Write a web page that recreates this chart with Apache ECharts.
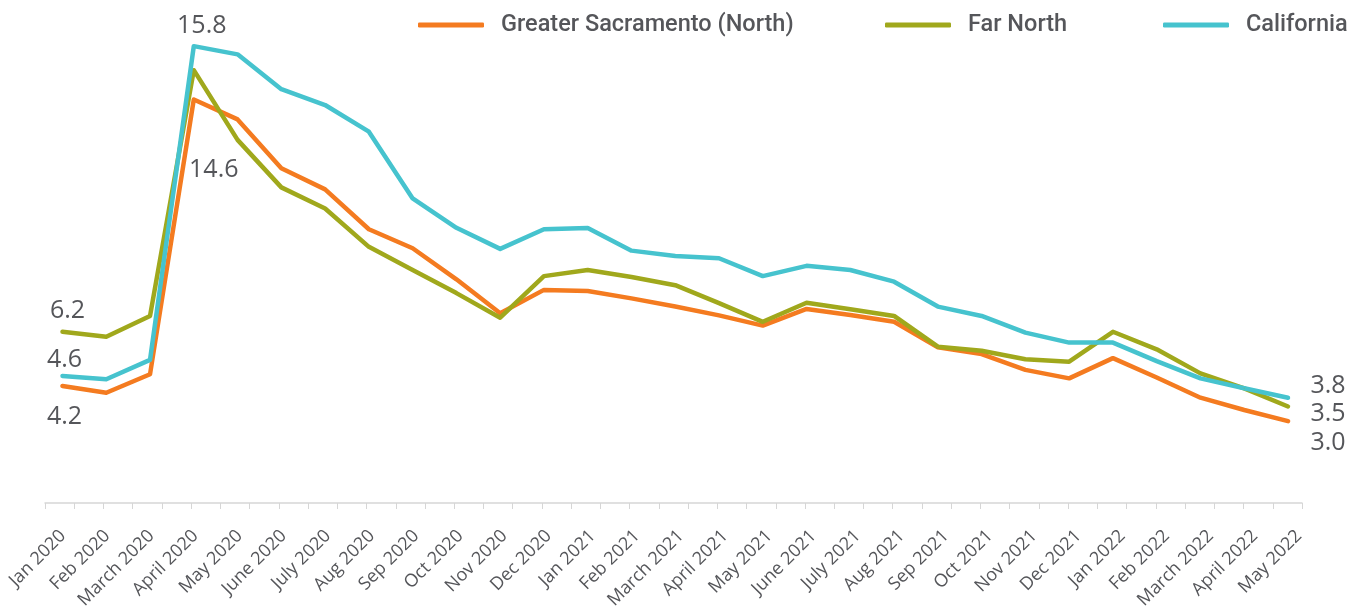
<!DOCTYPE html>
<html>
<head>
<meta charset="utf-8">
<title>Unemployment rate</title>
<script src="https://cdn.jsdelivr.net/npm/echarts@6/dist/echarts.min.js"></script>
<style>
    html, body { margin: 0; padding: 0; background: #fff; }
    #chart { width: 1363px; height: 607px; }
</style>
</head>
<body>
<div id="chart"></div>
<script>
const months = [
    'Jan 2020', 'Feb 2020', 'March 2020', 'April 2020', 'May 2020', 'June 2020', 'July 2020',
    'Aug 2020', 'Sep 2020', 'Oct 2020', 'Nov 2020', 'Dec 2020', 'Jan 2021', 'Feb 2021',
    'March 2021', 'April 2021', 'May 2021', 'June 2021', 'July 2021', 'Aug 2021', 'Sep 2021',
    'Oct 2021', 'Nov 2021', 'Dec 2021', 'Jan 2022', 'Feb 2022', 'March 2022', 'April 2022', 'May 2022'
];

const sacramento = [
    4.20, 3.97, 4.60, 13.98, 13.30, 11.63, 10.91, 9.55, 8.90, 7.84, 6.68, 7.48, 7.44, 7.19,
    6.91, 6.61, 6.26, 6.83, 6.62, 6.39, 5.52, 5.29, 4.75, 4.46, 5.15, 4.49, 3.80, 3.38, 3.00
];
const farNorth = [
    6.05, 5.88, 6.59, 14.98, 12.60, 10.98, 10.26, 8.95, 8.16, 7.37, 6.53, 7.95, 8.16, 7.92,
    7.64, 7.03, 6.39, 7.04, 6.82, 6.59, 5.54, 5.40, 5.11, 5.03, 6.05, 5.45, 4.63, 4.12, 3.50
];
const california = [
    4.54, 4.43, 5.09, 15.80, 15.52, 14.33, 13.79, 12.88, 10.60, 9.60, 8.88, 9.55, 9.59, 8.82,
    8.64, 8.56, 7.95, 8.30, 8.16, 7.76, 6.91, 6.59, 6.02, 5.68, 5.68, 5.05, 4.46, 4.12, 3.80
];

// printed labels, by month index
const sacramentoLabels = { 0: '4.2', 3: '14.6', 28: '3.0' };
const farNorthLabels = { 0: '6.2', 28: '3.5' };
const californiaLabels = { 0: '4.6', 3: '15.8', 28: '3.8' };

// where each printed label sits relative to its point
const sacramentoOffsets = { 0: [2, 31], 3: [20, 70], 28: [40, 22] };
const farNorthOffsets = { 0: [5, -21], 28: [40, 7] };
const californiaOffsets = { 0: [2, -16], 3: [8, -20], 28: [40, -12] };

const colors = {
    sacramento: '#f47b20',
    farNorth: '#a0a81c',
    california: '#46c3ce'
};

const textGray = '#55565a';

function withLabels(values, labels, offsets) {
    return values.map((v, i) => {
        if (labels[i] === undefined) return v;
        return {
            value: v,
            label: { show: true, formatter: labels[i], offset: offsets[i] }
        };
    });
}

function lineSeries(name, values, labels, offsets, color) {
    return {
        name: name,
        type: 'line',
        xAxisIndex: 0,
        yAxisIndex: 0,
        data: withLabels(values, labels, offsets),
        symbol: 'circle',
        symbolSize: 1,
        showSymbol: true,
        itemStyle: { color: color },
        lineStyle: { color: color, width: 4.5, cap: 'round', join: 'round' },
        label: {
            show: false,
            position: 'inside',
            fontFamily: 'Open Sans',
            fontSize: 25,
            color: textGray
        },
        emphasis: { disabled: true },
        z: 3
    };
}

function legendFor(name, left) {
    return {
        data: [name],
        left: left,
        top: 13,
        padding: 0,
        icon: 'roundRect',
        itemWidth: 66,
        itemHeight: 5,
        selectedMode: false,
        textStyle: {
            fontFamily: 'Roboto',
            fontWeight: 500,
            fontSize: 23.5,
            color: textGray,
            padding: [0, 0, 0, 12]
        }
    };
}

let chart = echarts.init(document.getElementById('chart'));

chart.setOption({
    animation: false,
    backgroundColor: '#fff',
    legend: [
        legendFor('Greater Sacramento (North)', 418),
        legendFor('Far North', 885),
        legendFor('California', 1163)
    ],
    grid: [
        // data area
        { left: 62.5, right: 75, top: 11, bottom: 98, outerBoundsMode: 'none' },
        // axis line with its ticks
        { left: 45, right: 61, top: 11, bottom: 104, outerBoundsMode: 'none' },
        // month labels
        { left: 63, right: 64, top: 11, bottom: 104, outerBoundsMode: 'none' }
    ],
    xAxis: [
        {
            gridIndex: 0,
            type: 'category',
            data: months,
            boundaryGap: false,
            show: false
        },
        {
            gridIndex: 1,
            type: 'value',
            min: 0,
            max: 43,
            interval: 1,
            axisLine: { show: true, lineStyle: { color: '#d6d6d6', width: 1.5 } },
            axisTick: { show: true, length: 6, lineStyle: { color: '#d6d6d6', width: 1 } },
            axisLabel: { show: false },
            splitLine: { show: false }
        },
        {
            gridIndex: 2,
            type: 'category',
            data: months,
            boundaryGap: false,
            axisLine: { show: false },
            axisTick: { show: false },
            axisLabel: {
                interval: 0,
                rotate: 45,
                margin: 30,
                fontFamily: 'Open Sans',
                fontSize: 18,
                color: textGray
            }
        }
    ],
    yAxis: [
        { gridIndex: 0, type: 'value', min: 0, max: 17, show: false },
        { gridIndex: 1, type: 'value', show: false },
        { gridIndex: 2, type: 'value', show: false }
    ],
    series: [
        lineSeries('Greater Sacramento (North)', sacramento, sacramentoLabels, sacramentoOffsets, colors.sacramento),
        lineSeries('Far North', farNorth, farNorthLabels, farNorthOffsets, colors.farNorth),
        lineSeries('California', california, californiaLabels, californiaOffsets, colors.california)
    ]
});
</script>
</body>
</html>
